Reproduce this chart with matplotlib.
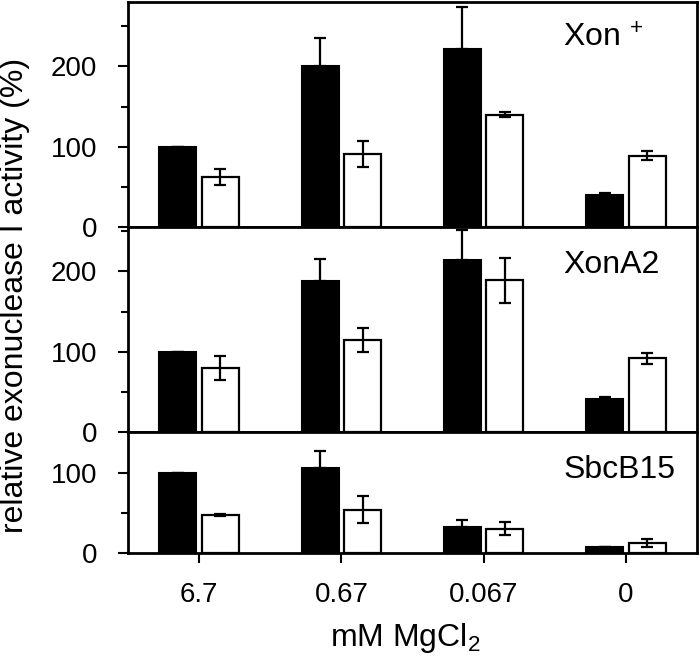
import numpy as np
import matplotlib.pyplot as plt

plt.rcParams['font.family'] = ['Liberation Sans', 'DejaVu Sans']
plt.rcParams['mathtext.fontset'] = 'custom'
plt.rcParams['mathtext.rm'] = 'Liberation Sans'
plt.rcParams['mathtext.it'] = 'Liberation Sans'

# --------------- data --------------- #
conc_labels = ['6.7', '0.67', '0.067', '0']
panel_names = ['Xon $^{+}$', 'XonA2', 'SbcB15']

xon_black = [100, 200, 221, 40]
xon_black_err = [0, 35, 53, 2]
xon_white = [62, 91, 140, 89]
xon_white_err = [10, 16, 3, 6]

xona2_black = [100, 188, 214, 42]
xona2_black_err = [0, 27, 37, 2]
xona2_white = [80, 115, 189, 92]
xona2_white_err = [15, 15, 28, 7]

sbcb15_black = [100, 106, 32, 7]
sbcb15_black_err = [0, 21, 9, 1]
sbcb15_white = [47, 54, 30, 13]
sbcb15_white_err = [1, 17, 8, 5]

y_tops = [280, 255, 150]

panels = [
    (xon_black, xon_black_err, xon_white, xon_white_err),
    (xona2_black, xona2_black_err, xona2_white, xona2_white_err),
    (sbcb15_black, sbcb15_black_err, sbcb15_white, sbcb15_white_err),
]
label_pos = [0.837, 0.817, 0.686]

# --------------- drawing --------------- #
fig = plt.figure(figsize=(7, 6.62), dpi=100)
gs = fig.add_gridspec(3, 1, height_ratios=y_tops, hspace=0,
                      left=128 / 700, right=697 / 700,
                      top=1 - 2 / 662, bottom=1 - 553 / 662)

x = np.arange(len(conc_labels))
w = 0.26
for i, (blk, blk_err, wht, wht_err) in enumerate(panels):
    ax = fig.add_subplot(gs[i])
    ax.bar(x - 0.15, blk, w, color='black', edgecolor='black', linewidth=1.5,
           yerr=[np.zeros(len(blk)), blk_err], ecolor='black',
           error_kw=dict(elinewidth=1.6, capsize=4, capthick=1.6), zorder=2)
    ax.bar(x + 0.15, wht, w, color='white', edgecolor='black', linewidth=1.6,
           yerr=wht_err, ecolor='black',
           error_kw=dict(elinewidth=1.6, capsize=4, capthick=1.6), zorder=2)
    ax.set_xlim(-0.5, 3.5)
    ax.set_ylim(0, y_tops[i])
    ax.set_yticks([t for t in [0, 100, 200] if t < y_tops[i]])
    ax.set_yticks([t for t in [50, 150, 250] if t < y_tops[i]], minor=True)
    ax.tick_params(axis='y', which='major', length=7, width=1.5, direction='out',
                   labelsize=20, pad=15)
    ax.tick_params(axis='y', which='minor', length=5, width=1.5, direction='out')
    for sp in ax.spines.values():
        sp.set_linewidth(2)
    ax.text(0.765, label_pos[i], panel_names[i], transform=ax.transAxes,
            ha='left', va='center', fontsize=23)
    if i < 2:
        ax.set_xticks([])
    else:
        ax.set_xticks(x)
        ax.set_xticklabels(conc_labels)
        ax.tick_params(axis='x', length=7, width=1.5, direction='out',
                       labelsize=20, pad=14)

fig.text(15 / 700, 1 - 295 / 662, 'relative exonuclease I activity (%)',
         rotation=90, ha='center', va='center', fontsize=23)
fig.text(405 / 700, 1 - 638 / 662, 'mM MgCl$_2$', ha='center', va='center',
         fontsize=23)

plt.savefig('out.png', dpi=100)
